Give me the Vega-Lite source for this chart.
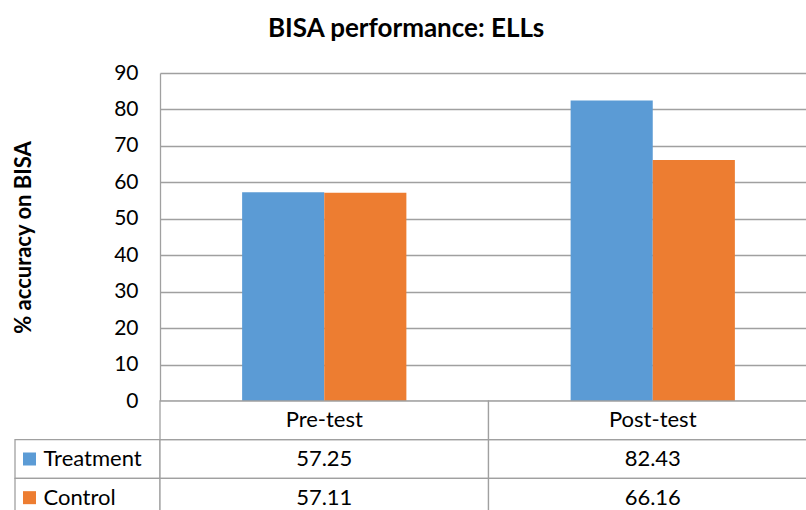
{
  "$schema": "https://vega.github.io/schema/vega-lite/v6.json",
  "background": "white",
  "padding": {"left": 12, "top": 16, "right": 0, "bottom": 0},
  "title": {"text": "BISA performance: ELLs", "font": "Lato", "fontSize": 26, "fontWeight": "bold", "color": "black", "anchor": "middle", "dx": -9, "offset": 20},
  "config": {"view": {"stroke": null}, "font": "Lato"},
  "datasets": {
    "scores": [
      {"Test": "Pre-test", "Group": "Treatment", "Value": 57.25},
      {"Test": "Pre-test", "Group": "Control", "Value": 57.11},
      {"Test": "Post-test", "Group": "Treatment", "Value": 82.43},
      {"Test": "Post-test", "Group": "Control", "Value": 66.16}
    ]
  },
  "columns": 2,
  "spacing": 0,
  "bounds": "flush",
  "align": "each",
  "concat": [
    {
      "width": 145,
      "height": 328,
      "data": {"values": []},
      "mark": "rect",
      "encoding": {}
    },
    {
      "width": 657,
      "height": 328,
      "data": {"name": "scores"},
      "mark": {"type": "bar"},
      "encoding": {
        "x": {"field": "Test", "type": "nominal", "sort": ["Pre-test", "Post-test"], "scale": {"paddingInner": 0, "paddingOuter": 0}, "axis": null},
        "xOffset": {"field": "Group", "type": "nominal", "sort": ["Treatment", "Control"], "scale": {"paddingInner": 0, "paddingOuter": 1}},
        "y": {
          "field": "Value", "type": "quantitative",
          "scale": {"domain": [0, 90], "nice": false},
          "axis": {
            "values": [0, 10, 20, 30, 40, 50, 60, 70, 80, 90],
            "title": "% accuracy on BISA",
            "titleFont": "Lato", "titleFontSize": 22, "titleFontWeight": "bold", "titleColor": "black", "titlePadding": 78,
            "labelFont": "Lato", "labelFontSize": 21, "labelColor": "black", "labelPadding": 22,
            "ticks": false, "tickSize": 0,
            "domainColor": "#a0a0a0", "domainWidth": 1.3,
            "grid": true, "gridColor": "#a0a0a0", "gridWidth": 1.3
          }
        },
        "color": {"field": "Group", "type": "nominal", "scale": {"domain": ["Treatment", "Control"], "range": ["#5B9BD5", "#ED7D31"]}, "legend": null}
      }
    },
    {
      "width": 145,
      "height": 116,
      "data": {"name": "scores"},
      "transform": [{"filter": "datum.Test === 'Pre-test'"}],
      "encoding": {
        "y": {"field": "Group", "type": "nominal", "scale": {"domain": ["header", "Treatment", "Control"], "paddingInner": 0, "paddingOuter": 0}, "axis": null}
      },
      "layer": [
        {"mark": {"type": "rect", "fill": "white", "stroke": "#a0a0a0", "strokeWidth": 1.3}},
        {"mark": {"type": "point", "shape": "square", "filled": true, "size": 169, "opacity": 1, "xOffset": -58},
         "encoding": {"color": {"field": "Group", "type": "nominal", "scale": {"domain": ["Treatment", "Control"], "range": ["#5B9BD5", "#ED7D31"]}, "legend": null}}},
        {"mark": {"type": "text", "align": "left", "dx": -44, "font": "Lato", "fontSize": 22, "color": "black"},
         "encoding": {"text": {"field": "Group", "type": "nominal"}}}
      ]
    },
    {
      "width": 657,
      "height": 116,
      "data": {"name": "scores"},
      "encoding": {
        "x": {"field": "Test", "type": "nominal", "sort": ["Pre-test", "Post-test"], "scale": {"paddingInner": 0, "paddingOuter": 0}, "axis": null}
      },
      "layer": [
        {"mark": {"type": "rect", "fill": "white", "stroke": "#a0a0a0", "strokeWidth": 1.3},
         "encoding": {"y": {"field": "Group", "type": "nominal", "scale": {"domain": ["header", "Treatment", "Control"], "paddingInner": 0, "paddingOuter": 0}, "axis": null}}},
        {"transform": [{"filter": "datum.Group === 'Treatment'"}],
         "mark": {"type": "rect", "fill": "white", "stroke": "#a0a0a0", "strokeWidth": 1.3},
         "encoding": {"y": {"datum": "header", "type": "nominal"}}},
        {"mark": {"type": "text", "font": "Lato", "fontSize": 22, "color": "black"},
         "encoding": {"y": {"field": "Group", "type": "nominal"}, "text": {"field": "Value", "type": "quantitative", "format": ".2f"}}},
        {"transform": [{"filter": "datum.Group === 'Treatment'"}],
         "mark": {"type": "text", "font": "Lato", "fontSize": 22, "color": "black"},
         "encoding": {"y": {"datum": "header", "type": "nominal"}, "text": {"field": "Test", "type": "nominal"}}}
      ]
    }
  ]
}
